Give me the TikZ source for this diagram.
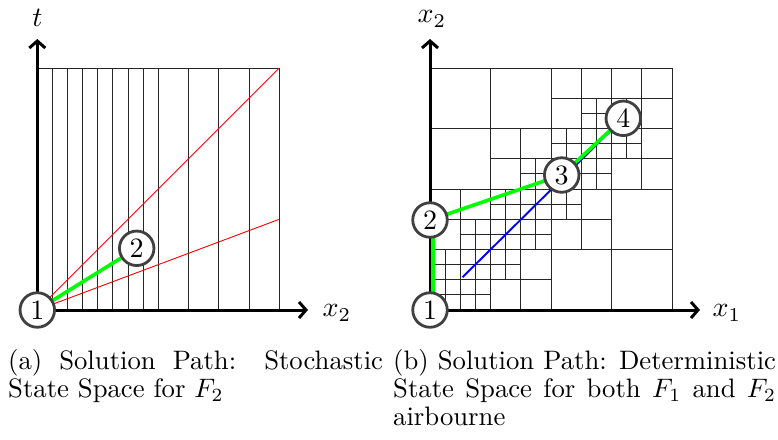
\documentclass[tikz,border=0pt]{standalone}
\usetikzlibrary{arrows.meta,backgrounds}
\newcommand{\bigtxt}[1]{\scalebox{2.8}{#1}}
\begin{document}
\begin{tikzpicture}[x=1pt,y=-1pt,
  cellline/.style={line width=1pt, draw=black!85},
  axisline/.style={line width=3pt, -{Straight Barb[length=7pt,width=16pt]}},
  state/.style={circle, draw=black!75, line width=2.8pt, fill=white, minimum size=34.5pt, inner sep=0pt},
  axlabel/.style={inner sep=0pt},
  greenpath/.style={line width=3.6pt, draw=green},
  bluepath/.style={line width=1.9pt, draw=blue},
  redpath/.style={line width=0.9pt, draw=red},
  caption/.style={anchor=north west, inner sep=0pt}
]
\useasboundingbox (0,0) rectangle (778,439);

% state nodes
\node[state] (a1) at (37.3,310) {\bigtxt{1}};
\node[state] (a2) at (136.7,248.3) {\bigtxt{2}};
\node[state] (b1) at (430,310) {\bigtxt{1}};
\node[state] (b2) at (430,220) {\bigtxt{2}};
\node[state] (b3) at (561.7,175) {\bigtxt{3}};
\node[state] (b4) at (623.3,118.3) {\bigtxt{4}};

% axis ends
\coordinate (aT) at (37.3,39);
\coordinate (aX) at (308,310);
\coordinate (bT) at (430,39);
\coordinate (bX) at (700,310);
\coordinate (bluestart) at (462.5,277.2);

% axis labels
\node[axlabel] (lt) at (37.5,18) {\bigtxt{$t$}};
\node[axlabel] (lxa) at (337,313) {\bigtxt{$x_2$}};
\node[axlabel] (lxb) at (432,19) {\bigtxt{$x_2$}};
\node[axlabel] (lxc) at (727,313) {\bigtxt{$x_1$}};

% captions
\node[caption] (capa) at (8,349) {\scalebox{2.67}{\parbox[t]{140.4pt}{\fontsize{10}{10.5}\selectfont (a) Solution Path: Stochastic State Space for $F_2$}}};
\node[caption] (capb) at (393,349) {\scalebox{2.67}{\parbox[t]{143.4pt}{\fontsize{10}{10.5}\selectfont (b) Solution Path: Deterministic State Space for both $F_1$ and $F_2$ airbourne}}};

\begin{pgfonlayer}{background}
  % left panel grid
  \begin{scope}[shift={(37.3pt,-310pt)}, x=7.5625pt, y=7.5625pt]
    \draw[cellline] (0,0) rectangle (32,32);
    \foreach \k in {2,4,...,16,20,24,28} \draw[cellline] (\k,0) -- (\k,32);
    \coordinate (redA) at (32,32);
    \coordinate (redB) at (32,12);
  \end{scope}
  % right panel quadtree
  \begin{scope}[shift={(430pt,-310pt)}, x=7.5625pt, y=7.5625pt]
    \draw[cellline] (0,0) rectangle (32,32);
    \foreach \a/\b/\s in {0/0/32, 0/0/16, 16/0/16, 0/16/16, 16/16/16,
       8/16/8, 16/24/8, 24/24/8, 16/16/8, 24/16/8, 0/8/8, 8/8/8, 0/0/8, 8/0/8, 16/8/8,
       12/16/4, 20/24/4, 24/24/4, 24/20/4, 16/20/4, 20/20/4, 16/16/4, 20/16/4,
       0/0/4, 4/0/4, 0/4/4, 4/4/4, 8/4/4, 4/8/4, 8/8/4, 12/8/4, 8/12/4, 12/12/4, 16/12/4}
      \draw[cellline] ({\a+\s/2},\b) -- ++(0,\s) (\a,{\b+\s/2}) -- ++(\s,0);
  \end{scope}

  % red lines
  \draw[redpath] (a1.center) -- (redA);
  \draw[redpath] (a1.center) -- (redB);

  % axes
  \draw[axisline] (a1.center) -- (aT);
  \draw[axisline] (a1.center) -- (aX);
  \draw[axisline] (b1.center) -- (bT);
  \draw[axisline] (b1.center) -- (bX);

  % paths
  \draw[greenpath] (a1.center) -- (a2.center);
  \draw[bluepath] (bluestart) -- (b4.center);
  \draw[greenpath] ([xshift=3pt]b1.center) -- ([xshift=3pt]b2.center);
  \draw[greenpath] (b2.center) -- (b3.center) -- (b4.center);
\end{pgfonlayer}
\end{tikzpicture}
\end{document}
